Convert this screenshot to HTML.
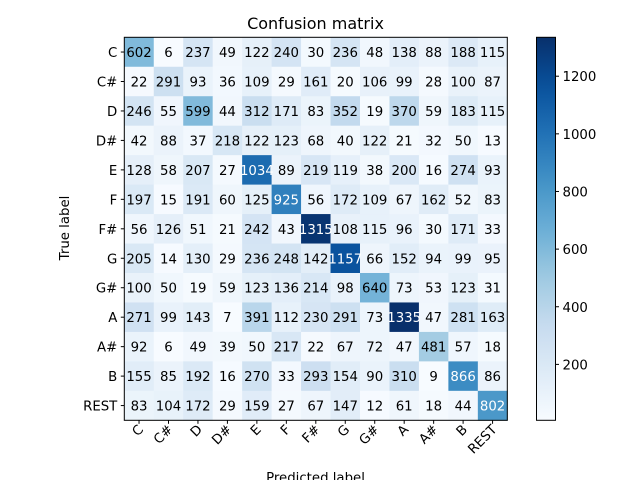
<!DOCTYPE html>
<html><head><meta charset="utf-8"><style>
body{margin:0;background:#fff;}
svg{display:block;font-family:"DejaVu Sans","Liberation Sans",sans-serif;}
</style></head><body>
<svg id="chart" width="640" height="480" viewBox="0 0 640 480" xmlns="http://www.w3.org/2000/svg">
<text x="315.5" y="29" font-size="16" text-anchor="middle">Confusion matrix</text>
<text transform="translate(69,228) rotate(-90)" font-size="13.3" text-anchor="middle">True label</text>
<text x="315.5" y="482" font-size="13.3" text-anchor="middle">Predicted label</text>
</svg>
<script>
const labels = ["C","C#","D","D#","E","F","F#","G","G#","A","A#","B","REST"];
const row0 = [602,6,237,49,122,240,30,236,48,138,88,188,115];
const row1 = [22,291,93,36,109,29,161,20,106,99,28,100,87];
const row2 = [246,55,599,44,312,171,83,352,19,370,59,183,115];
const row3 = [42,88,37,218,122,123,68,40,122,21,32,50,13];
const row4 = [128,58,207,27,1034,89,219,119,38,200,16,274,93];
const row5 = [197,15,191,60,125,925,56,172,109,67,162,52,83];
const row6 = [56,126,51,21,242,43,1315,108,115,96,30,171,33];
const row7 = [205,14,130,29,236,248,142,1157,66,152,94,99,95];
const row8 = [100,50,19,59,123,136,214,98,640,73,53,123,31];
const row9 = [271,99,143,7,391,112,230,291,73,1335,47,281,163];
const row10 = [92,6,49,39,50,217,22,67,72,47,481,57,18];
const row11 = [155,85,192,16,270,33,293,154,90,310,9,866,86];
const row12 = [83,104,172,29,159,27,67,147,12,61,18,44,802];
const matrix = [row0,row1,row2,row3,row4,row5,row6,row7,row8,row9,row10,row11,row12];
const cbTicks = [200,400,600,800,1000,1200];

const NS="http://www.w3.org/2000/svg";
const svg=document.getElementById('chart');
const L=124.3,T=37.3,W=383,H=383;
const n=labels.length, cw=W/n, ch=H/n;
const flat=matrix.flat();
const vmin=Math.min(...flat), vmax=Math.max(...flat);
const stops=["#f7fbff","#deebf7","#c6dbef","#9ecae1","#6baed6","#4292c6","#2171b5","#08519c","#08306b"].map(h=>[1,3,5].map(i=>parseInt(h.substr(i,2),16)));
function blues(t){t=Math.max(0,Math.min(1,t));const p=t*8,i=Math.min(7,Math.floor(p)),f=p-i;
 const c=stops[i].map((v,k)=>Math.round(v+(stops[i+1][k]-v)*f));return `rgb(${c})`;}
function norm(v){return (v-vmin)/(vmax-vmin);}
const xScale=j=>L+j*cw, yScale=i=>T+i*ch;
function mk(tag,attrs){const e=document.createElementNS(NS,tag);for(const k in attrs)e.setAttribute(k,attrs[k]);svg.appendChild(e);return e;}

matrix.forEach((row,i)=>row.forEach((v,j)=>{
 const r=mk('rect',{x:xScale(j),y:yScale(i),width:cw+0.4,height:ch+0.4,fill:blues(norm(v))});
 
 
}));
matrix.forEach((row,i)=>row.forEach((v,j)=>{
 const t=mk('text',{x:xScale(j)+cw/2,y:yScale(i)+ch/2+5,'font-size':'13.3','text-anchor':'middle',fill:v>vmax/2?'#fff':'#000'});
 t.textContent=v;
 
 
}));
const frame=mk('rect',{x:L,y:T,width:W,height:H,fill:'none',stroke:'#000','stroke-width':1});



labels.forEach((lab,i)=>{
 const y=yScale(i)+ch/2;
 mk('line',{x1:L-3.5,x2:L,y1:y,y2:y,stroke:'#000'});
 const t=mk('text',{x:L-7,y:y+5,'font-size':'13.3','text-anchor':'end'});
 t.textContent=lab;
 
 
 const x=xScale(i)+cw/2;
 mk('line',{x1:x,x2:x,y1:T+H,y2:T+H+3.5,stroke:'#000'});
 const tx=mk('text',{transform:`translate(${x+5},${T+H+10}) rotate(-45)`,'font-size':'13.3','text-anchor':'end'});
 tx.textContent=lab;
 
 
});

// colorbar
const CL=536.5,CW=19,CT=37.3,CH=383;
const defs=mk('defs',{});
const g=document.createElementNS(NS,'linearGradient');
g.setAttribute('id','cbg');g.setAttribute('x1','0');g.setAttribute('y1','1');g.setAttribute('x2','0');g.setAttribute('y2','0');
defs.appendChild(g);
for(let k=0;k<=20;k++){const s=document.createElementNS(NS,'stop');s.setAttribute('offset',k/20);s.setAttribute('stop-color',blues(k/20));g.appendChild(s);}
const cb=mk('rect',{x:CL,y:CT,width:CW,height:CH,fill:'url(#cbg)',stroke:'#000','stroke-width':1});


const cbY=v=>CT+CH*(1-norm(v));
cbTicks.forEach(v=>{
 const y=cbY(v);
 mk('line',{x1:CL+CW,x2:CL+CW+3.5,y1:y,y2:y,stroke:'#000'});
 const t=mk('text',{x:CL+CW+7,y:y+5,'font-size':'13.3'});
 t.textContent=v;
 
 
});
</script>
</body></html>
